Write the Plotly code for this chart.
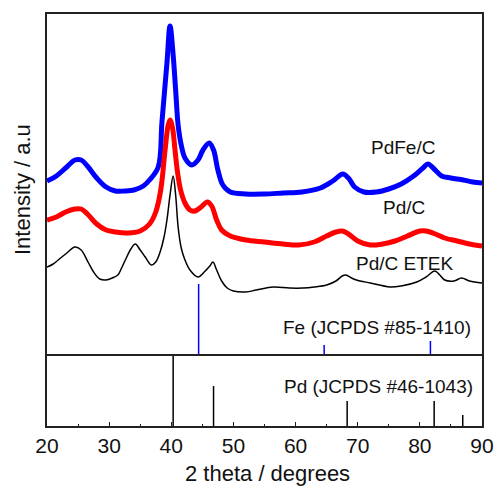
import plotly.graph_objects as go

# ---------------- data ----------------
# 2-theta positions (degrees) and intensities (a.u., upper panel scale 0..340)
pdfe_x = [20, 21.5, 23, 24.5, 25.5, 26.5, 28, 29.5, 31, 32.5, 34, 35.5, 36.5, 37.9,
          38.5, 39.3, 39.8, 40.3, 40.7, 41.1, 41.6, 42.2, 43.3, 44.3, 45.1, 46.1, 46.8,
          47.5, 48.3, 49.5, 52, 55, 58, 61, 64, 66, 67.6, 68.5, 69.5, 71, 73, 75, 77,
          79, 80.5, 81.3, 82.3, 83.5, 85, 87, 88.5, 90]
pdfe_y = [173, 178, 186, 194, 194, 188, 176, 167, 163, 163, 164, 168, 174, 187,
          232, 291, 328, 299, 264, 229, 209, 196, 189, 194, 204, 211, 204,
          184, 169, 162, 160, 160, 161, 162, 166, 173, 180, 176, 167, 162, 162, 165, 170,
          178, 186, 190, 185, 178, 176, 174, 172, 171]

pdc_x = [20, 21.5, 23, 24.5, 25.5, 26.5, 28, 29.5, 31, 33, 35, 36.5, 37.5, 38.3, 39,
         39.5, 39.8, 40.2, 40.6, 41, 41.5, 42.2, 43, 43.8, 44.8, 45.8, 46.5, 47.3, 48.1,
         49.5, 52, 55, 58, 60.5, 63, 65, 66.5, 67.5, 68.5, 70, 72, 74, 76, 78, 80, 81,
         82.5, 84, 86, 88, 90]
pdc_y = [134, 137, 142, 145, 145, 140, 130, 124, 122, 121, 123, 130, 142, 164, 204,
         229, 234, 226, 204, 182, 164, 151, 144, 143, 147, 152, 148, 134, 124,
         118, 114, 112, 110, 109, 112, 118, 122, 123, 120, 113, 109, 110, 113, 118, 123, 123,
         120, 116, 113, 110, 108]

etek_x = [20, 21, 21.8, 23, 24.5, 25.5, 26.6, 27.5, 28.5, 29.5, 30.5, 31.4, 32, 32.6,
          33.5, 34.2, 35, 35.8, 36.8, 37.5, 38.2, 38.8, 39.3, 39.8, 40.3, 40.7, 41.1,
          41.6, 42.2, 43, 44.3, 45.3, 46.2, 46.7, 47.3, 48.1, 49, 50, 52, 53.7, 56.4, 59,
          61.2, 63, 65, 66.5, 67.5, 68.1, 69, 69.8, 72, 75.2, 77, 79.5, 81, 82.4, 83.2,
          84, 85.5, 86.7, 88, 90]
etek_y = [87, 90, 94, 100, 107, 104, 92, 82, 75, 74, 76, 79, 86, 94,
          105, 110, 104, 97, 89, 92, 102, 116, 134, 159, 178, 159, 127,
          106, 94, 84, 77, 82, 88, 92, 84, 73, 66, 63, 62, 64, 67, 66,
          66, 67, 69, 73, 78, 79, 76, 74, 71, 67, 68, 72, 77, 83, 79,
          74, 73, 76, 73, 71]

# reference stick patterns
fe_pos = [44.4, 64.6, 81.7]
fe_int = [70, 9, 13]
pd_pos = [40.3, 46.8, 68.3, 82.3, 86.9]
pd_int = [72, 40, 25, 25, 11]

x_ticks = [20, 30, 40, 50, 60, 70, 80, 90]

FONT = "Liberation Sans, Arial, sans-serif"
AX = "#222222"


def sticks(pos, inten):
    xs, ys = [], []
    for p, h in zip(pos, inten):
        xs += [p, p, None]
        ys += [0, h, None]
    return xs, ys


fig = go.Figure()

fig.add_trace(go.Scatter(x=pdfe_x, y=pdfe_y, mode="lines", xaxis="x2", yaxis="y2",
                         line=dict(color="#0000FF", width=5), line_shape="spline",
                         showlegend=False))
fig.add_trace(go.Scatter(x=pdc_x, y=pdc_y, mode="lines", xaxis="x2", yaxis="y2",
                         line=dict(color="#FF0000", width=5), line_shape="spline",
                         showlegend=False))
fig.add_trace(go.Scatter(x=etek_x, y=etek_y, mode="lines", xaxis="x2", yaxis="y2",
                         line=dict(color="#000000", width=1.5), line_shape="spline",
                         showlegend=False))

fx, fy = sticks(fe_pos, fe_int)
fig.add_trace(go.Scatter(x=fx, y=fy, mode="lines", xaxis="x2", yaxis="y2",
                         line=dict(color="#0000FF", width=1.5), showlegend=False))
px_, py_ = sticks(pd_pos, pd_int)
fig.add_trace(go.Scatter(x=px_, y=py_, mode="lines", xaxis="x", yaxis="y",
                         line=dict(color="#000000", width=1.5), showlegend=False))

split = 72 / 412

fig.update_layout(
    width=495, height=486, autosize=False,
    margin=dict(l=47, r=13, t=14, b=60, autoexpand=False),
    paper_bgcolor="white", plot_bgcolor="white",
    font=dict(family=FONT, color="#111111"),
    xaxis=dict(domain=[0, 1], anchor="y", range=[20, 90], tickvals=x_ticks,
               ticks="inside", ticklen=4, tickwidth=1, tickcolor=AX,
               minor=dict(dtick=5, tick0=0, ticks="inside", ticklen=2, tickcolor=AX),
               showline=True, linecolor=AX, linewidth=1.5, mirror=False,
               showgrid=False, zeroline=False, automargin=False,
               tickfont=dict(size=21, family=FONT, color="#111111")),
    yaxis=dict(domain=[0, split], anchor="x", range=[0, 72], automargin=False,
               showticklabels=False, ticks="", showline=True, linecolor=AX,
               linewidth=1.5, mirror=True, showgrid=False, zeroline=False),
    xaxis2=dict(domain=[0, 1], anchor="y2", matches="x", range=[20, 90],
                showticklabels=False, ticks="", showline=True, linecolor=AX,
                linewidth=1.5, mirror=True, showgrid=False, zeroline=False,
                automargin=False),
    yaxis2=dict(domain=[split, 1], anchor="x2", range=[0, 340], automargin=False,
                showticklabels=False, ticks="", showline=True, linecolor=AX,
                linewidth=1.5, mirror=True, showgrid=False, zeroline=False),
)

ann_font = dict(family=FONT, size=19, color="#111111")
labels = [
    ("PdFe/C", 77.3, 207),
    ("Pd/C", 77.45, 147),
    ("Pd/C ETEK", 77.45, 91),
    ("Fe (JCPDS #85-1410)", 73.1, 27),
]
for txt, xv, yv in labels:
    fig.add_annotation(text=txt, x=xv, y=yv, xref="x2", yref="y2",
                       showarrow=False, font=ann_font, xanchor="center", yanchor="middle")
fig.add_annotation(text="Pd (JCPDS #46-1043)", x=73.3, y=40, xref="x", yref="y",
                   showarrow=False, font=ann_font, xanchor="center", yanchor="middle")

fig.add_annotation(text="2 theta / degrees", x=0.507, y=(426 - 473) / 412,
                   xref="paper", yref="paper", showarrow=False,
                   font=dict(family=FONT, size=22, color="#111111"),
                   xanchor="center", yanchor="middle")
fig.add_annotation(text="Intensity / a.u", x=(22 - 47) / 435, y=(426 - 190) / 412,
                   xref="paper", yref="paper", showarrow=False, textangle=-90,
                   font=dict(family=FONT, size=22, color="#111111"),
                   xanchor="center", yanchor="middle")

fig.write_html("out.html", config={"responsive": False})
